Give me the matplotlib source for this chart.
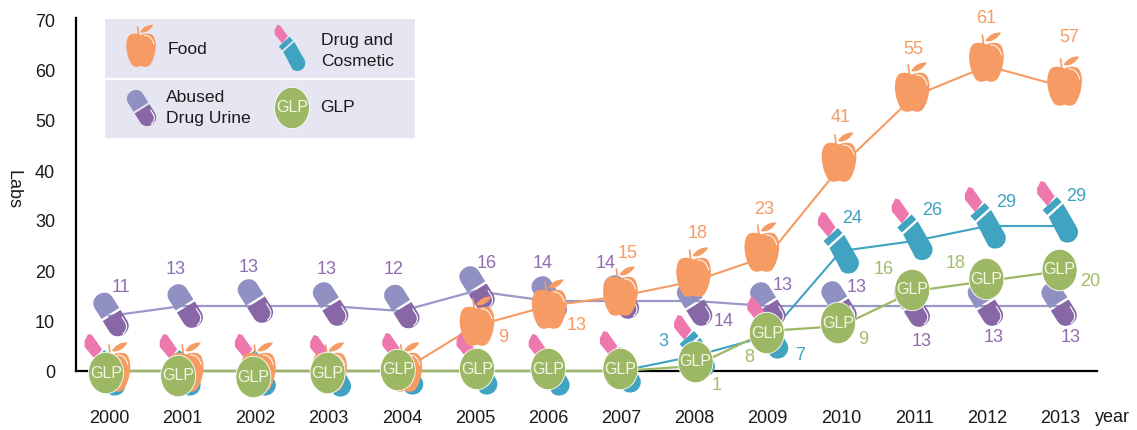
import matplotlib
matplotlib.use("Agg")
import matplotlib.pyplot as plt
from matplotlib.path import Path
from matplotlib.patches import PathPatch, Rectangle, Ellipse
from matplotlib.transforms import Affine2D, ScaledTranslation

plt.rcParams['font.family'] = ['Liberation Sans', 'DejaVu Sans']

# ---------- data ----------
years = [2000, 2001, 2002, 2003, 2004, 2005, 2006, 2007, 2008, 2009, 2010, 2011, 2012, 2013]
food = [0, 0, 0, 0, 0, 9, 13, 15, 18, 23, 41, 55, 61, 57]
drug = [0, 0, 0, 0, 0, 0, 0, 0, 3, 7, 24, 26, 29, 29]
urine = [11, 13, 13, 13, 12, 16, 14, 14, 14, 13, 13, 13, 13, 13]
glp = [0, 0, 0, 0, 0, 0, 0, 0, 1, 8, 9, 16, 18, 20]
y_ticks = [0, 10, 20, 30, 40, 50, 60, 70]

# ---------- layout (pixels) ----------
W, H = 1137, 430
LEFT, RIGHT, BASE, TOP = 76, 1097, 371, 18
X0, XSTEP, YSTEP = 109, 73.2, 5.0

food_shift = [(4, -1), (4, -1), (3, -1), (1, -1), (3, -1), (2, 0), (1, -3), (-1, 0), (-1, 4), (-6, 4), (-2, 4), (-2, 4), (-1, 4), (4, 0)]
drug_shift = [(-4, 6), (-2, 6), (0, 6), (2, 5), (1, 7), (2, 7), (1, 6), (-1, 9), (0, 10), (0, 8), (-2.5, 8), (-2, 11.5), (-2, 8), (-3, 14)]
urine_shift = [(2, 1.5), (3, 0), (0, 5), (2, 2), (0, 4.5), (2, 3), (1, 3), (0, 4), (0, -3), (0, 2), (-2, 3), (-2, 1), (-2, 2), (-1.5, 2)]
glp_shift = [(-3, -2), (-4, -5), (-2, -6), (-1, -2), (-4, 1), (2, 2), (0, 2), (-1, 2), (1, 4), (-1, -2), (-3, 3), (-2, 1), (-1, 2), (-1, 1)]

food_lab = [None, None, None, None, None, (503, 337), (577, 326), (628, 253), (698, 233), (764, 209), (841, 117), (913, 50), (986, 19), (1069, 38)]
drug_lab = [None] * 8 + [(663, 342), (800, 356), (852, 219), (932, 211), (1006, 203), (1076, 197)]
urine_lab = [(121, 288), (176, 270), (249, 267), (327, 269), (394, 270), (487, 263), (543, 263), (606, 263), (724, 322), (783, 285), (857, 288), (922, 342), (994, 338), (1071, 338)]
glp_lab = [None] * 8 + [(717, 386), (749, 358), (863, 339), (884, 269), (956, 263), (1090, 281)]

ORANGE, TEAL, PINK = '#F59B63', '#3FA3C1', '#EE78AE'
LAV, PURPLE, GREEN = '#9190C2', '#8767A6', '#9DB865'
C_URINE_LINE, C_URINE_TXT, C_GLP_TXT = '#9A97CB', '#8F6DAE', '#A3BC6C'
TXT = '#1a1a1a'
FS = 13
FS_LEG = 12.6

fig = plt.figure(figsize=(W / 100, H / 100), dpi=100)
ax = fig.add_axes([LEFT / W, 1 - BASE / H, (RIGHT - LEFT) / W, (BASE - TOP) / H])
ax.set_zorder(1)
ax.set_xlim((LEFT - X0) / XSTEP, (RIGHT - X0) / XSTEP)
ax.set_ylim(0, (BASE - TOP) / YSTEP)
for s in ('top', 'right'):
    ax.spines[s].set_visible(False)
for s in ('left', 'bottom'):
    ax.spines[s].set_linewidth(1.6)
    ax.spines[s].set_color('black')
xs = list(range(len(years)))
ax.set_xticks(xs)
ax.set_xticklabels([str(y) for y in years])
ax.set_yticks(y_ticks)
ax.tick_params(axis='x', length=0, pad=28, labelsize=FS, labelcolor=TXT)
ax.tick_params(axis='y', length=0, pad=15, labelsize=FS, labelcolor=TXT)


def curve(*segs):
    verts, codes = [], []
    for seg in segs:
        if seg[0] == 'M':
            verts.append(seg[1]); codes.append(Path.MOVETO)
        elif seg[0] == 'L':
            verts.append(seg[1]); codes.append(Path.LINETO)
        elif seg[0] == 'C':
            verts.extend(seg[1:]); codes.extend([Path.CURVE4] * 3)
        elif seg[0] == 'Z':
            verts.append((0, 0)); codes.append(Path.CLOSEPOLY)
    return Path(verts, codes)


APPLE = [
    (curve(('M', (0, 17.5)), ('C', (3, 19), (8, 20), (12, 18.5)), ('C', (16, 17), (17.5, 10), (17.3, 4)),
           ('C', (17, -4), (14, -14), (10, -18)), ('C', (7, -20.5), (3, -20), (0, -18.5)),
           ('C', (-3, -20), (-7, -20.5), (-10, -18)), ('C', (-14, -14), (-17, -4), (-17.3, 4)),
           ('C', (-17.5, 10), (-16, 17), (-12, 18.5)), ('C', (-8, 20), (-3, 19), (0, 17.5)), ('Z',)), ORANGE, 'none', 0),
    (curve(('M', (-1, 21)), ('C', (2, 27), (8, 30), (14.5, 29.5)), ('C', (12, 24), (5, 19), (-1, 21)), ('Z',)), ORANGE, 'none', 0),
    (curve(('M', (-2.8, 17)), ('L', (-4, 27))), 'none', ORANGE, 1.2),
    (curve(('M', (4, 17)), ('C', (9, 17.5), (13.5, 14), (15, 7))), 'none', 'white', 0.7),
]
LIPSTICK = [
    (Path([(-16.8, 31), (-13, 30), (-3, 15.7), (-10.3, 6), (-20.5, 18.3), (-20.5, 24), (-16.8, 31)], closed=True), PINK, 'none', 0),
    (Path([(-15, 2), (-0.6, 15), (4, 10), (-10.4, -3), (-15, 2)], closed=True), TEAL, 'none', 0),
    (curve(('M', (-9, -5)), ('L', (5.6, 8.2)), ('L', (19, -15)), ('C', (22, -20), (20, -26), (15.5, -29)),
           ('C', (11, -31.5), (6, -31), (3, -28)), ('Z',)), TEAL, 'none', 0),
]
CAP_R = Affine2D().rotate_deg(32)
CAPSULE = [
    (CAP_R.transform_path(curve(('M', (-10.5, 1.2)), ('L', (10.5, 1.2)), ('L', (10.5, 13.5)),
                                ('C', (10.5, 27), (-10.5, 27), (-10.5, 13.5)), ('Z',))), LAV, 'none', 0),
    (CAP_R.transform_path(curve(('M', (-10.5, -1.2)), ('L', (10.5, -1.2)), ('L', (10.5, -13.5)),
                                ('C', (10.5, -27), (-10.5, -27), (-10.5, -13.5)), ('Z',))), PURPLE, 'none', 0),
    (CAP_R.transform_path(curve(('M', (8, -8)), ('L', (8, -14)), ('C', (8, -19.5), (3.5, -22.5), (0, -22.5)))), 'none', 'white', 0.8),
]


def icon(parts, offset, scale=1.0, z=4):
    tr = Affine2D().scale(scale) + offset
    for path, face, edge, lw in parts:
        ax.add_patch(PathPatch(path, facecolor=face, edgecolor=edge, linewidth=lw,
                               transform=tr, clip_on=False, zorder=z, capstyle='round', joinstyle='round'))


def glp_icon(offset, z=7):
    tr = Affine2D() + offset
    ax.add_patch(Ellipse((0, 0), 35, 41.5, facecolor=GREEN, edgecolor='white', linewidth=0.6,
                         transform=tr, clip_on=False, zorder=z))
    ax.text(0, 0, 'GLP', transform=tr, ha='center', va='center', fontsize=11.5, color='#F3F6E6',
            zorder=z + 0.1, clip_on=False)


def at_data(i, v, shift):
    return Affine2D().translate(*shift) + ScaledTranslation(i, v, ax.transData)


def at_px(x, y):
    return Affine2D().translate(x, H - y)


# legend panel
for (y0, y1) in ((19, 78), (80, 138)):
    fig.add_artist(Rectangle((105 / W, 1 - y1 / H), 310 / W, (y1 - y0) / H, transform=fig.transFigure,
                             facecolor='#E6E6F2', edgecolor='none', zorder=0.5))
ax.patch.set_visible(False)

# lines
ax.plot(xs, urine, color=C_URINE_LINE, lw=1.6, zorder=3, clip_on=False)
ax.plot(xs, drug, color=TEAL, lw=1.5, zorder=3.1, clip_on=False)
ax.plot(xs, food, color=ORANGE, lw=1.5, zorder=3.2, clip_on=False)
ax.plot(xs, glp, color=GREEN, lw=1.6, zorder=3.3, clip_on=False)

# icons
for i in xs:
    icon(CAPSULE, at_data(i, urine[i], urine_shift[i]), z=4)
    icon(LIPSTICK, at_data(i, drug[i], drug_shift[i]), z=5)
    icon(APPLE, at_data(i, food[i], food_shift[i]), z=6)
    glp_icon(at_data(i, glp[i], glp_shift[i]))

# value labels
for vals, labs, col in ((food, food_lab, ORANGE), (drug, drug_lab, TEAL),
                        (urine, urine_lab, C_URINE_TXT), (glp, glp_lab, C_GLP_TXT)):
    for i, (v, p) in enumerate(zip(vals, labs)):
        if p is None:
            continue
        off = (p[0] - (X0 + XSTEP * i), (BASE - YSTEP * v) - p[1])
        ax.annotate(str(v), xy=(i, v), xytext=off, textcoords='offset pixels', ha='center', va='center',
                    fontsize=FS, color=col, zorder=9, annotation_clip=False)

# legend icons and text
icon(APPLE, at_px(141, 50), scale=0.85, z=4)
icon(LIPSTICK, at_px(290, 48), scale=0.75, z=4)
icon(CAPSULE, at_px(141.5, 108), scale=0.83, z=4)
glp_icon(at_px(292, 108), z=4)
for (x, y, s) in ((168, 50, 'Food'), (321, 50.5, 'Drug and\nCosmetic'),
                  (166, 108.5, 'Abused\nDrug Urine'), (320, 108, 'GLP')):
    fig.text(x / W, 1 - y / H, s, ha='left', va='center', fontsize=FS_LEG, color=TXT, linespacing=1.5, zorder=5)

fig.text(13 / W, 1 - 190 / H, 'Labs', rotation=270, ha='center', va='center', fontsize=FS, color=TXT)
fig.text(1112 / W, 1 - 417 / H, 'year', ha='center', va='center', fontsize=FS, color=TXT)

fig.savefig('out.png', dpi=100)
